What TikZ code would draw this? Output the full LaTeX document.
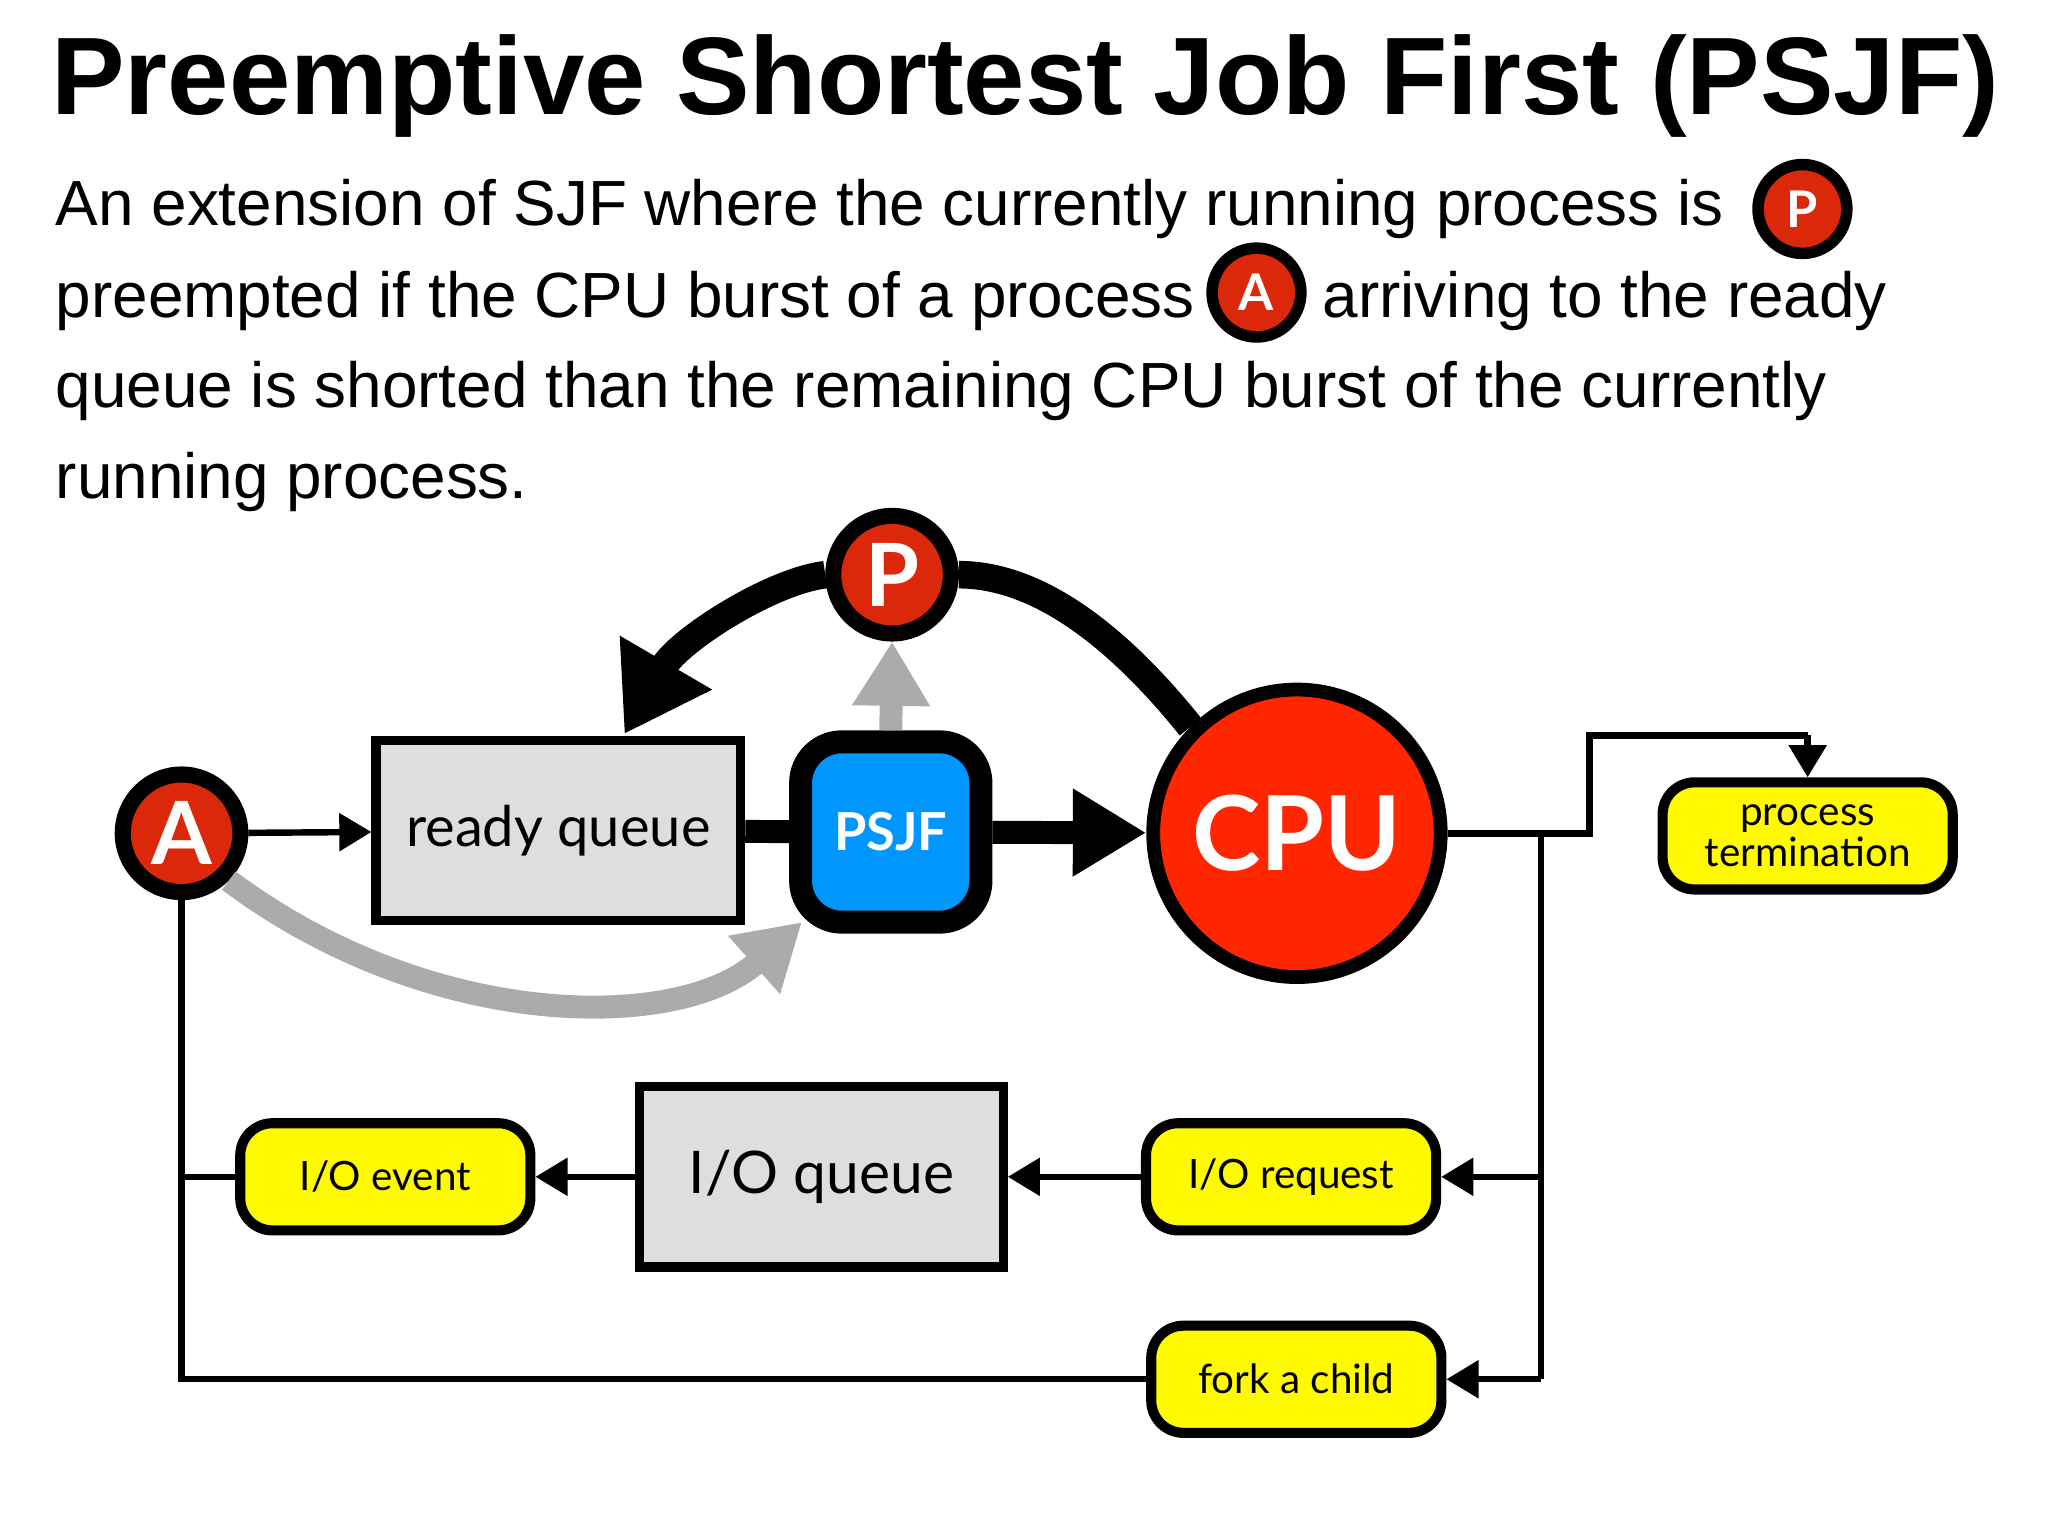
\documentclass[tikz,border=0pt]{standalone}
\usepackage{fontspec}
\setmainfont{Liberation Sans}
\newfontfamily\gill{Lato}
\usetikzlibrary{arrows.meta}
\definecolor{cpured}{RGB}{255,38,0}
\definecolor{pred}{RGB}{220,40,10}
\definecolor{psjfblue}{RGB}{0,150,255}
\definecolor{ylw}{RGB}{255,250,0}
\definecolor{qgray}{RGB}{222,222,222}
\definecolor{agray}{RGB}{170,172,172}
\begin{document}
\begin{tikzpicture}[x=0.01cm,y=-0.01cm,
 badge/.style={circle,draw=black,line width=3.5pt,fill=pred,text=white,font=\gill\bfseries\fontsize{19}{19}\selectfont,minimum size=#1,inner sep=0},
 ibadge/.style={circle,draw=black,line width=2.5pt,fill=pred,text=white,font=\gill\bfseries\fontsize{11}{11}\selectfont,minimum size=0.68cm,inner sep=0},
 queue/.style={draw=black,line width=2pt,fill=qgray,font=\gill\fontsize{#1}{#1}\selectfont,inner sep=0},
 ybox/.style={draw=black,line width=2.2pt,rounded corners=7pt,fill=ylw,font=\gill\fontsize{8.8}{7.5}\selectfont,minimum width=2.22cm,minimum height=0.82cm,inner sep=0,align=center},
 conn/.style={line width=1.4pt,-{Triangle[length=7pt,width=8pt]}},
 line/.style={line width=1.4pt}]
\useasboundingbox (0,0) rectangle (1568,1176);
\node[font=\bfseries\fontsize{24}{24}\selectfont,anchor=base] (title) at (785,88) {Preemptive Shortest Job First (PSJF)};
\tikzset{para/.style={anchor=base west,font=\fontsize{13.9}{13.9}\selectfont,inner sep=0}}
\node[para] (l1) at (42,173) {An extension of SJF where the currently running process is};
\node[para] (l2) at (42,243) {preempted if the CPU burst of a process};
\node[para] (l2b) at (1012,243) {arriving to the ready};
\node[para] (l3) at (42,312) {queue is shorted than the remaining CPU burst of the currently};
\node[para] (l4) at (42,382) {running process.};
\node[ibadge] (ip) at (1380,160) {P};
\node[ibadge] (ia) at (962,224) {A};
% main nodes
\node[badge=0.9cm] (P) at (683,440) {P};
\node[badge=0.9cm] (A) at (139,638) {A};
\node[queue=12.2,minimum width=2.79cm,minimum height=1.38cm] (rq) at (427.5,636) {ready queue};
\node[draw=black,line width=5pt,rounded corners=9pt,fill=psjfblue,text=white,font=\gill\bfseries\fontsize{11.4}{11.4}\selectfont,minimum width=1.38cm,minimum height=1.38cm] (psjf) at (682,637) {PSJF};
\node[circle,draw=black,line width=3pt,fill=cpured,text=white,font=\gill\bfseries\fontsize{22.5}{22.5}\selectfont,minimum size=2.2cm,inner sep=0] (cpu) at (993,638) {CPU};
\node[ybox] (pt) at (1384,640) {process\\termination};
\node[queue=12.8,minimum width=2.78cm,minimum height=1.38cm] (ioq) at (629,901) {I/O queue};
\node[ybox] (ioe) at (295,901) {I/O event};
\node[ybox] (ior) at (988.5,901) {I/O request};
\node[ybox] (fork) at (992.5,1056) {fork a child};
% connectors
\draw[conn] (A) -- (rq);
\draw[line width=5pt] (rq) -- (psjf);
\draw[line width=5pt,-{Triangle[length=16pt,width=18pt]}] (psjf) -- (cpu);
\coordinate (tj) at (1180,638);
\draw[line] (cpu.east) -- (1217,638) -- (1217,563) -- (1384,563);
\draw[conn] (1384,563) -- (pt.north);
\draw[line] (cpu.east) -- (tj) -- (1180,1056);
\draw[conn] (1180,901) -- (ior.east);
\draw[conn] (1180,1056) -- (fork.east);
\draw[conn] (ior) -- (ioq);
\draw[conn] (ioq) -- (ioe);
\draw[line] (ioe.west) -- (139,901);
\draw[line] (A.south) -- (139,1056) -- (fork.west);
\draw[agray,line width=5pt,-{Triangle[length=14pt,width=16pt]}] (A.south east) .. controls (330,790) and (520,790) .. (614,706);
\draw[agray,line width=5pt,-{Triangle[length=14pt,width=16pt]}] (psjf.north) -- (P.south);
\draw[line width=6pt] (cpu.north west) .. controls (850,480) and (790,440) .. (P.east);
\draw[line width=6pt,-{Triangle[length=18pt,width=22pt]}] (P.west) .. controls (590,445) and (520,490) .. (478,562);
\end{tikzpicture}
\end{document}
